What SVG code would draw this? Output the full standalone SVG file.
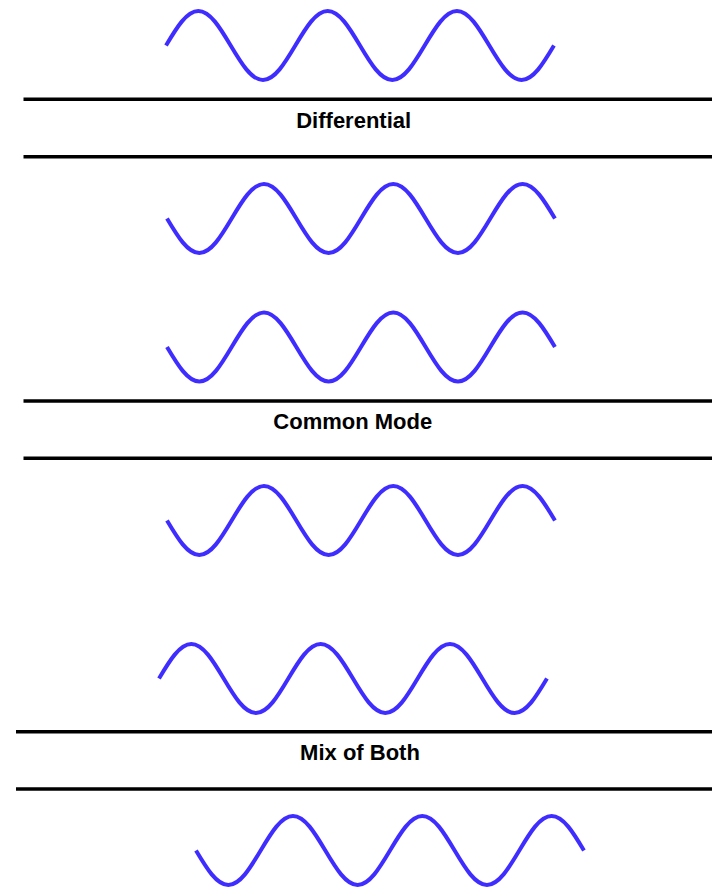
<svg xmlns="http://www.w3.org/2000/svg" xmlns:xlink="http://www.w3.org/1999/xlink" width="712" height="888" viewBox="0 0 712 888">
<style>
.wave{fill:none;stroke:#3f2dff;stroke-width:4;stroke-linecap:butt;stroke-linejoin:round}
.rule{stroke:#000;stroke-width:3.5}
.lbl{font-family:"Liberation Sans",Arial,sans-serif;font-weight:bold;font-size:22px;fill:#000;text-anchor:middle}
</style>
<defs>
<path id="sine" class="wave" d="M0,0 c10.54,-17.67 20.63,-34.5 32.33,-34.5 c11.7,0 21.79,16.83 32.33,34.5 c10.54,17.67 20.63,34.5 32.33,34.5 c11.7,0 21.79,-16.83 32.33,-34.5 c10.54,-17.67 20.63,-34.5 32.33,-34.5 c11.7,0 21.79,16.83 32.33,34.5 c10.54,17.67 20.63,34.5 32.33,34.5 c11.7,0 21.79,-16.83 32.33,-34.5 c10.54,-17.67 20.63,-34.5 32.33,-34.5 c11.7,0 21.79,16.83 32.33,34.5 c10.54,17.67 20.63,34.5 32.33,34.5 c11.7,0 21.79,-16.83 32.33,-34.5"/>
</defs>
<rect width="712" height="888" fill="#fff"/>
<g id="differential">
<use xlink:href="#sine" href="#sine" transform="translate(166,45.5)"/>
<line class="rule" x1="23.5" y1="99.3" x2="712" y2="99.3"/>
<text class="lbl" x="353.7" y="128.3">Differential</text>
<line class="rule" x1="23.5" y1="156.7" x2="712" y2="156.7"/>
<use xlink:href="#sine" href="#sine" transform="translate(167,218.5) scale(1,-1)"/>
</g>
<g id="common-mode">
<use xlink:href="#sine" href="#sine" transform="translate(167,347) scale(1,-1)"/>
<line class="rule" x1="23.5" y1="401" x2="712" y2="401"/>
<text class="lbl" x="352.8" y="429.3">Common Mode</text>
<line class="rule" x1="23.5" y1="458.3" x2="712" y2="458.3"/>
<use xlink:href="#sine" href="#sine" transform="translate(167,520.5) scale(1,-1)"/>
</g>
<g id="mix-of-both">
<use xlink:href="#sine" href="#sine" transform="translate(159,678.5)"/>
<line class="rule" x1="16" y1="731.7" x2="712" y2="731.7"/>
<text class="lbl" x="360" y="760">Mix of Both</text>
<line class="rule" x1="16" y1="789" x2="712" y2="789"/>
<use xlink:href="#sine" href="#sine" transform="translate(196,850.5) scale(1,-1)"/>
</g>
</svg>
